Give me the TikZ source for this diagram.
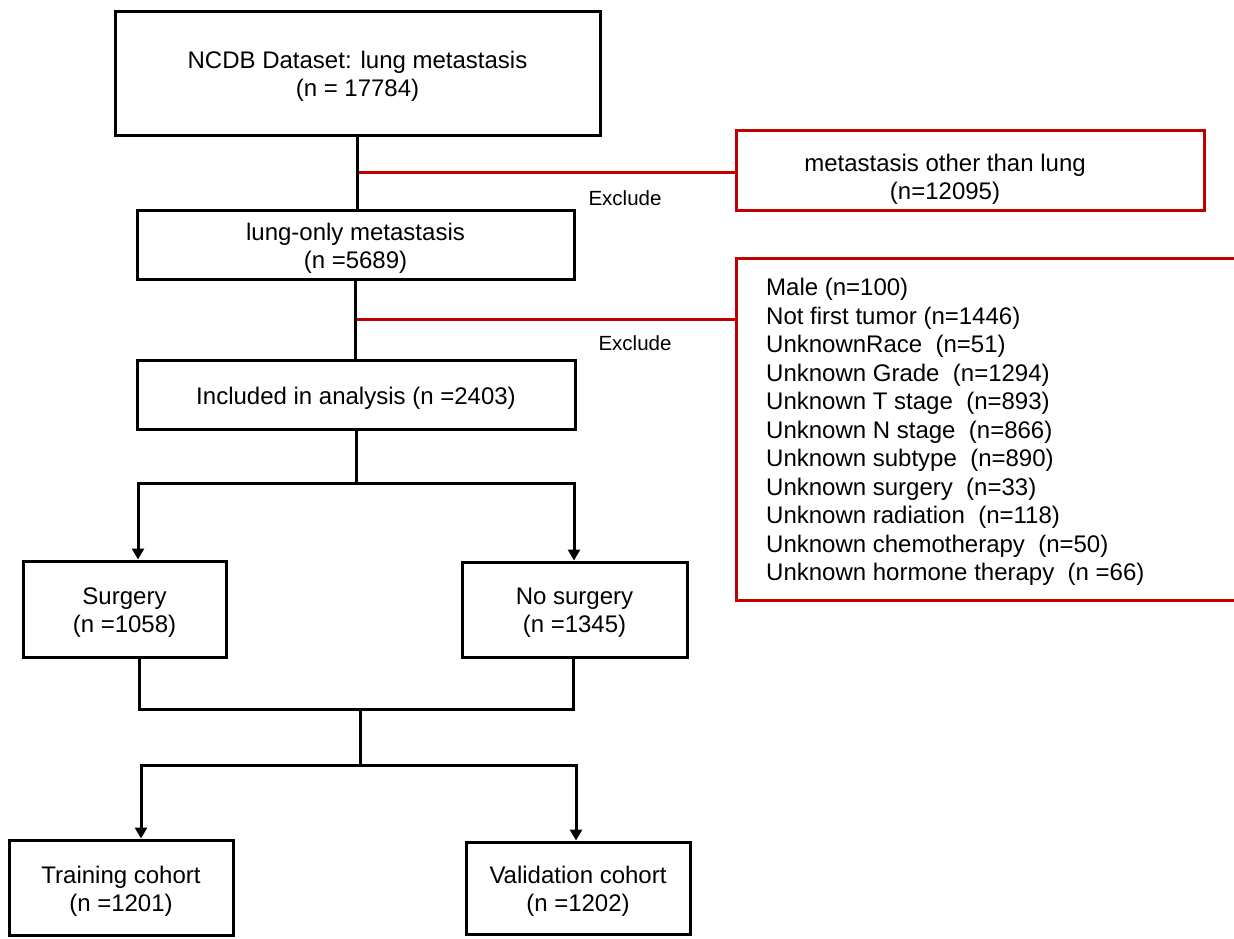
\documentclass[tikz,border=0pt]{standalone}
\usepackage{fontspec}
\setmainfont{Liberation Sans}
\usetikzlibrary{arrows.meta}
\definecolor{exred}{RGB}{192,0,0}
\begin{document}
\begin{tikzpicture}[x=1pt,y=-1pt,
  box/.style={draw=black,line width=3pt,rectangle,inner sep=0pt},
  boxtext/.style={label={[inner sep=0pt,align=center,yshift=-3.5pt,font=\fontsize{24}{28}\selectfont]center:{#1}}},
  redbox/.style={draw=exred,line width=3pt,rectangle,inner sep=0pt},
  conn/.style={line width=3pt,black},
  redconn/.style={line width=3pt,exred},
  arr/.style={conn,-{Triangle[width=12pt,length=11pt]}},
  lbl/.style={font=\fontsize{20.5}{24}\selectfont,inner sep=0pt},
  txt/.style={inner sep=0pt,align=left,font=\fontsize{24}{28.5}\selectfont}]
\useasboundingbox (0,0) rectangle (1234,938);
% black boxes
\node[box,minimum width=485pt,minimum height=124pt,boxtext={NCDB Dataset: lung metastasis\\(n = 17784)}] (ncdb) at (357.5,73) {};
\node[box,minimum width=437pt,minimum height=69pt,boxtext={lung-only metastasis\\(n =5689)}] (lung) at (355.5,244.5) {};
\node[box,minimum width=438pt,minimum height=69pt,boxtext={Included in analysis (n =2403)}] (incl) at (356,394.5) {};
\node[box,minimum width=203pt,minimum height=96pt,boxtext={Surgery\\(n =1058)}] (surg) at (124.5,609) {};
\node[box,minimum width=225pt,minimum height=95pt,boxtext={No surgery\\(n =1345)}] (nosurg) at (574.5,609.5) {};
\node[box,minimum width=224pt,minimum height=95pt,boxtext={Training cohort\\(n =1201)}] (train) at (121,887.5) {};
\node[box,minimum width=224pt,minimum height=92pt,boxtext={Validation cohort\\(n =1202)}] (valid) at (578,888) {};
% red boxes
\node[redbox,minimum width=468pt,minimum height=80pt] (red1) at (970,170) {};
\node[txt,align=center] (red1t) at (945,179.5) {metastasis other than lung\\(n=12095)};
\node[redbox,minimum width=504pt,minimum height=342pt] (red2) at (988,429) {};
\node[txt,anchor=west] (list) at (766,432) {Male (n=100)\\Not first tumor (n=1446)\\UnknownRace\ \ (n=51)\\Unknown Grade\ \ (n=1294)\\Unknown T stage\ \ (n=893)\\Unknown N stage\ \ (n=866)\\Unknown subtype\ \ (n=890)\\Unknown surgery\ \ (n=33)\\Unknown radiation\ \ (n=118)\\Unknown chemotherapy\ \ (n=50)\\Unknown hormone therapy\ \ (n =66)};
% labels
\node[lbl] (ex1) at (625,198) {Exclude};
\node[lbl] (ex2) at (635,343) {Exclude};
% red connectors
\coordinate (j1) at (357.5,172);
\coordinate (j2) at (356,319);
\draw[redconn] (j1) -- (j1 -| red1.west);
\draw[redconn] (j2) -- (j2 -| red2.west);
% black connectors
\draw[conn] (ncdb.south) -- (ncdb.south |- lung.north);
\draw[conn] (lung.south) -- (lung.south |- incl.north);
\coordinate (s1) at (356,483);
\coordinate (sl) at (138,483);
\coordinate (sr) at (574,483);
\draw[conn] (incl.south) -- (s1);
\draw[arr] (s1) -- (sl) -- (sl |- surg.north);
\draw[arr] (s1) -- (sr) -- (sr |- nosurg.north);
\coordinate (m1) at (139,709);
\coordinate (m2) at (573,709);
\coordinate (m0) at (360,709);
\coordinate (b0) at (360,765);
\coordinate (bl) at (141,765);
\coordinate (br) at (576,765);
\draw[conn] (m1 |- surg.south) -- (m1) -- (m2) -- (m2 |- nosurg.south);
\draw[conn] (m0) -- (b0);
\draw[arr] (b0) -- (bl) -- (bl |- train.north);
\draw[arr] (b0) -- (br) -- (br |- valid.north);
\end{tikzpicture}
\end{document}
